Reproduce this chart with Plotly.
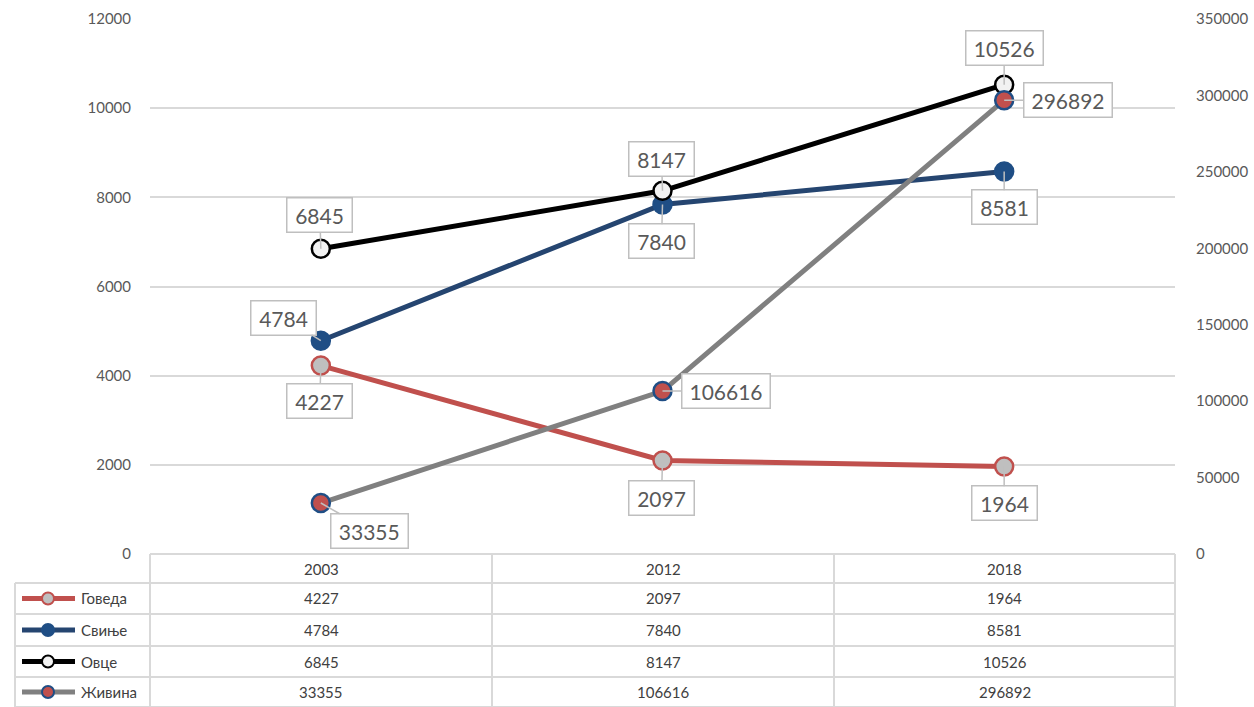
import plotly.graph_objects as go

# ---------------- data ----------------
years = ["2003", "2012", "2018"]
series_names = ["Говеда", "Свиње", "Овце", "Живина"]
goveda = [4227, 2097, 1964]
svinje = [4784, 7840, 8581]
ovce = [6845, 8147, 10526]
zivina = [33355, 106616, 296892]
left_ticks = [0, 2000, 4000, 6000, 8000, 10000, 12000]
right_ticks = [0, 50000, 100000, 150000, 200000, 250000, 300000, 350000]

W, H = 1254, 707
L, R, T, B = 150, 1175, 19, 554  # plot area in pixels

def px(x):
    return (x - L) / (R - L)

def py(y):
    return (B - y) / (B - T)

FONT = "Lato, 'Open Sans', sans-serif"
TXT = "#404040"
GRID = "#d9d9d9"

styles = [
    dict(line="#C0504D", fill="#BFBFBF", border="#C0504D", yaxis="y"),
    dict(line="#254570", fill="#1F4E85", border="#1F4E85", yaxis="y"),
    dict(line="#000000", fill="#F2F2F2", border="#000000", yaxis="y"),
    dict(line="#808080", fill="#C0504D", border="#1F4E85", yaxis="y2"),
]
values = [goveda, svinje, ovce, zivina]

fig = go.Figure()
for name, vals, st in zip(series_names, values, styles):
    fig.add_trace(go.Scatter(
        x=years, y=vals, name=name, mode="lines+markers", yaxis=st["yaxis"],
        line=dict(color=st["line"], width=5),
        marker=dict(size=18, color=st["fill"], line=dict(color=st["border"], width=2.5)),
        hoverinfo="skip",
    ))

# data label offsets (box centre relative to point, in pixels)
offsets = [
    [(-1, 35), (-1, 37), (0, 37)],      # Говеда
    [(-37, -23), (-1, 37), (0, 36)],    # Свиње
    [(-1, -34), (-1, -32), (0, -37)],   # Овце
    [(49, 28), (63, 0), (64, 0)],       # Живина
]
annotations = []
for vals, st, offs in zip(values, styles, offsets):
    for i, (v, (dx, dy)) in enumerate(zip(vals, offs)):
        txt = str(v)
        annotations.append(dict(
            x=i, y=v, xref="x", yref=st["yaxis"], text=txt,
            width=11.5 * len(txt) + 10,
            showarrow=True, ax=dx, ay=dy, axref="pixel", ayref="pixel",
            arrowhead=0, arrowwidth=1.5, arrowcolor="#BFBFBF", standoff=0,
            bgcolor="white", bordercolor="#BFBFBF", borderwidth=1.5, borderpad=4,
            font=dict(family=FONT, size=21, color="#595959"),
        ))

# ---------------- data table below ----------------
shapes = []
col_x = [150, 492, 834, 1175]
row_y = [554, 583, 614, 646, 677, 707]
line_style = dict(color=GRID, width=2)
for cx in col_x:
    shapes.append(dict(type="line", xref="paper", yref="paper",
                       x0=px(cx), x1=px(cx), y0=py(554), y1=py(707), line=line_style, layer="below"))
shapes.append(dict(type="line", xref="paper", yref="paper",
                   x0=px(15), x1=px(15), y0=py(583), y1=py(707), line=line_style, layer="below"))
shapes.append(dict(type="line", xref="paper", yref="paper",
                   x0=px(150), x1=px(1175), y0=py(554), y1=py(554), line=line_style, layer="below"))
for ry in row_y[1:]:
    shapes.append(dict(type="line", xref="paper", yref="paper",
                       x0=px(15), x1=px(1175), y0=py(ry), y1=py(ry), line=line_style, layer="below"))

col_centers = [(col_x[i] + col_x[i + 1]) / 2 for i in range(3)]
row_centers = [(row_y[i] + row_y[i + 1]) / 2 for i in range(5)]

for cx, yr in zip(col_centers, years):
    annotations.append(dict(x=px(cx), y=py(row_centers[0]), xref="paper", yref="paper",
                            text=yr, showarrow=False, xanchor="center", yanchor="middle",
                            font=dict(family=FONT, size=15, color=TXT)))

for i, (name, vals, st) in enumerate(zip(series_names, values, styles)):
    cy = row_centers[i + 1]
    for cx, v in zip(col_centers, vals):
        annotations.append(dict(x=px(cx), y=py(cy), xref="paper", yref="paper",
                                text=str(v), showarrow=False, xanchor="center", yanchor="middle",
                                font=dict(family=FONT, size=15, color=TXT)))
    annotations.append(dict(x=px(79), y=py(cy), xref="paper", yref="paper",
                            text=name, showarrow=False, xanchor="left", yanchor="middle",
                            font=dict(family=FONT, size=15, color=TXT)))
    shapes.append(dict(type="line", xref="paper", yref="paper",
                       x0=px(22), x1=px(75), y0=py(cy), y1=py(cy),
                       line=dict(color=st["line"], width=5)))
    r = 6
    shapes.append(dict(type="circle", xref="paper", yref="paper",
                       x0=px(48 - r), x1=px(48 + r), y0=py(cy + r), y1=py(cy - r),
                       fillcolor=st["fill"], line=dict(color=st["border"], width=2)))

fig.update_layout(
    width=W, height=H,
    margin=dict(l=L, r=W - R, t=T, b=H - B, pad=0, autoexpand=False),
    paper_bgcolor="white", plot_bgcolor="white",
    showlegend=False,
    font=dict(family=FONT, size=15, color="#595959"),
    xaxis=dict(type="category", categoryorder="array", categoryarray=years,
               range=[-0.5, 2.5], showgrid=False, showticklabels=False,
               zeroline=False, showline=False, fixedrange=True, automargin=False),
    yaxis=dict(range=[0, 12000], tickvals=left_ticks, tickformat="d", showgrid=True,
               gridcolor=GRID, gridwidth=1.5, zeroline=False, showline=False, automargin=False,
               ticklabelstandoff=18, tickfont=dict(family=FONT, size=15, color="#595959")),
    yaxis2=dict(range=[0, 350000], tickvals=right_ticks, tickformat="d", overlaying="y",
                side="right", showgrid=False, zeroline=False, showline=False, automargin=False,
                ticklabelstandoff=20, tickfont=dict(family=FONT, size=15, color="#595959")),
    annotations=annotations,
    shapes=shapes,
)

fig.write_html("out.html", config={"displayModeBar": False},
               post_script="document.body.style.margin='0';")
